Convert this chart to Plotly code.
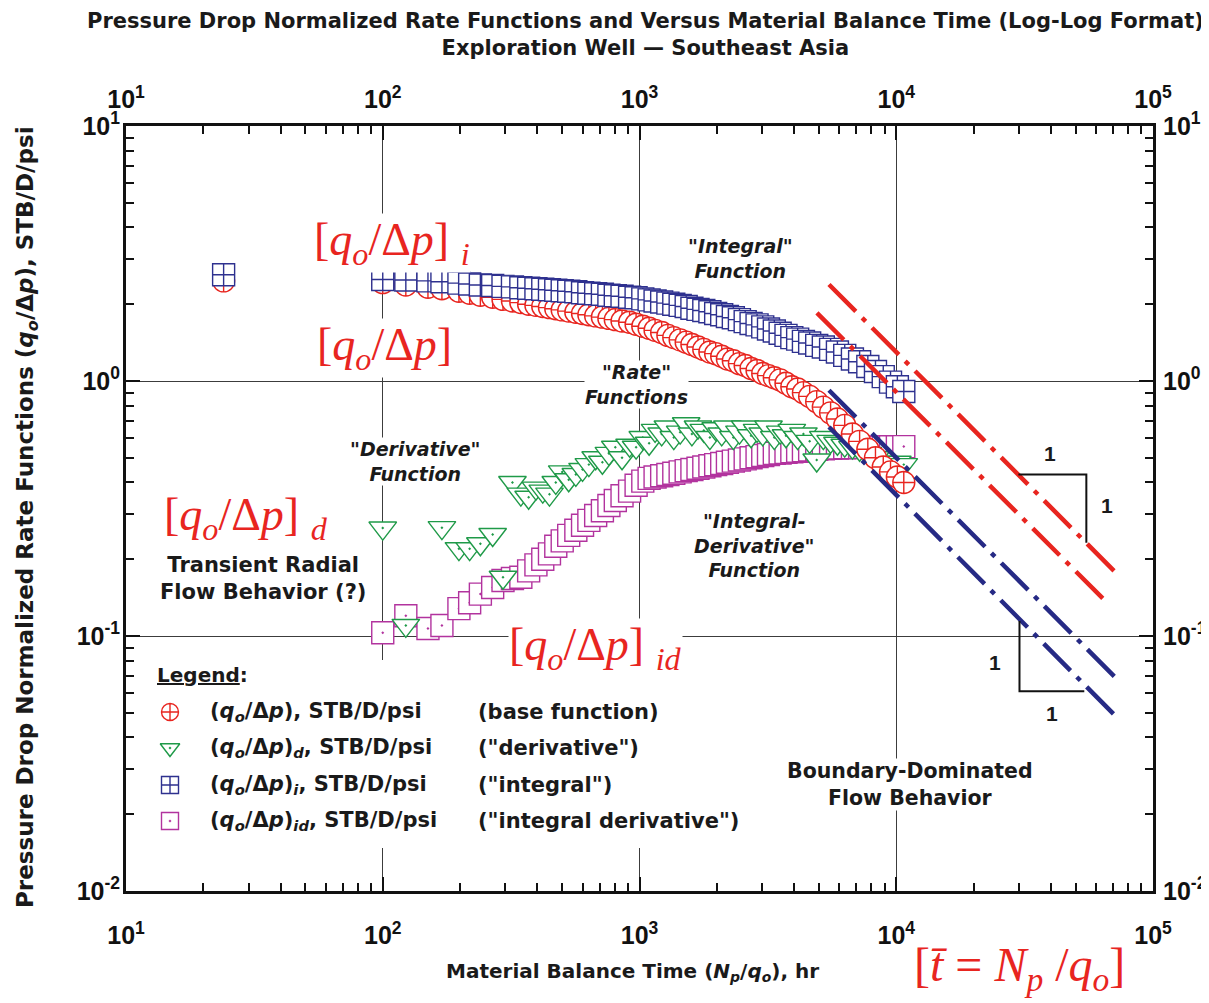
import plotly.graph_objects as go

# ---------------- data ----------------
t_mbt = [24, 100, 123, 150, 170, 198, 218, 240, 268, 294, 320, 345, 370, 395, 420, 446, 472, 500,
         530, 565, 600, 635, 675, 717, 760, 805, 855, 915, 970, 1030, 1090, 1150, 1220, 1290, 1360,
         1440, 1520, 1600, 1690, 1780, 1880, 1980, 2090, 2200, 2320, 2450, 2580, 2720, 2870, 3020,
         3180, 3350, 3530, 3720, 3920, 4130, 4350, 4600, 4900, 5200, 5550, 5900, 6300, 6750, 7200,
         7750, 8300, 8900, 9500, 10100, 10700]

q_base = [2.47, 2.43, 2.38, 2.33, 2.30, 2.25, 2.21, 2.17, 2.13, 2.09, 2.06, 2.03, 2.00, 1.98, 1.96,
          1.94, 1.92, 1.90, 1.88, 1.86, 1.84, 1.82, 1.80, 1.78, 1.76, 1.74, 1.72, 1.70, 1.67, 1.64,
          1.61, 1.58, 1.55, 1.51, 1.48, 1.45, 1.42, 1.39, 1.36, 1.33, 1.30, 1.28, 1.25, 1.22, 1.20,
          1.17, 1.15, 1.12, 1.10, 1.07, 1.05, 1.03, 1.01, 0.98, 0.95, 0.93, 0.90, 0.87, 0.83, 0.79,
          0.75, 0.71, 0.67, 0.62, 0.58, 0.54, 0.50, 0.46, 0.44, 0.42, 0.40]

q_deriv = [None, 0.265, 0.11, None, 0.266, 0.22, 0.22, 0.23, 0.25, 0.17, 0.40, 0.36, 0.35, 0.38, 0.37,
           0.36, 0.40, 0.44, 0.41, 0.43, 0.45, 0.47, 0.50, 0.48, 0.52, 0.55, 0.50, 0.56, 0.55, 0.60,
           0.57, 0.64, 0.62, 0.66, 0.60, 0.63, 0.68, 0.62, 0.66, 0.64, 0.60, 0.65, 0.62, 0.66, 0.60,
           0.63, 0.66, 0.61, 0.64, 0.62, 0.66, 0.60, 0.63, 0.61, 0.64, 0.60, 0.62, 0.58, 0.49, 0.60,
           0.58, 0.57, 0.56, 0.55, 0.54, 0.52, 0.50, 0.48, 0.47, 0.48, 0.47]

q_int = [2.61, 2.50, 2.49, 2.47, 2.45, 2.42, 2.40, 2.38, 2.37, 2.35, 2.34, 2.32, 2.31, 2.30, 2.29,
         2.28, 2.27, 2.26, 2.25, 2.24, 2.22, 2.21, 2.20, 2.19, 2.17, 2.16, 2.15, 2.13, 2.12, 2.10,
         2.08, 2.06, 2.04, 2.02, 2.00, 1.98, 1.96, 1.93, 1.91, 1.89, 1.87, 1.84, 1.82, 1.79, 1.77,
         1.74, 1.71, 1.68, 1.66, 1.63, 1.60, 1.57, 1.54, 1.51, 1.48, 1.46, 1.43, 1.41, 1.38, 1.36,
         1.33, 1.30, 1.26, 1.22, 1.19, 1.14, 1.09, 1.04, 0.99, 0.95, 0.91]

q_intderiv = [None, 0.103, 0.12, 0.107, 0.11, 0.128, 0.135, 0.146, 0.155, 0.165, 0.168, 0.17, 0.18,
              0.19, 0.20, 0.21, 0.225, 0.236, 0.248, 0.26, 0.272, 0.284, 0.297, 0.31, 0.325, 0.34,
              0.355, 0.37, 0.39, 0.405, 0.415, 0.42, 0.425, 0.43, 0.435, 0.44, 0.445, 0.45, 0.455,
              0.46, 0.465, 0.47, 0.475, 0.48, 0.485, 0.49, 0.495, 0.50, 0.505, 0.51, 0.515, 0.52,
              0.522, 0.525, 0.528, 0.53, 0.533, 0.536, 0.54, 0.542, 0.545, 0.546, 0.547, 0.548,
              0.549, 0.55, 0.55, 0.551, 0.552, 0.552, 0.553]

# unit-slope guide lines (boundary-dominated flow)
red_upper_x = [5470, 73800]
red_upper_y = [2.39, 0.172]
red_lower_x = [4910, 66800]
red_lower_y = [1.85, 0.134]
blue_upper_x = [5470, 73800]
blue_upper_y = [0.92, 0.0665]
blue_lower_x = [5470, 73800]
blue_lower_y = [0.66, 0.047]

# slope triangles
tri_upper_x = [29900, 55000, 55000]
tri_upper_y = [0.43, 0.43, 0.232]
tri_lower_x = [30200, 30200, 54000]
tri_lower_y = [0.1146, 0.0607, 0.0607]

x_tick_vals = [10, 100, 1000, 10000, 100000]
x_tick_text = ["10<sup>1</sup>", "10<sup>2</sup>", "10<sup>3</sup>", "10<sup>4</sup>", "10<sup>5</sup>"]
y_tick_vals = [0.01, 0.1, 1, 10]
y_tick_text = ["10<sup>-2</sup>", "10<sup>-1</sup>", "10<sup>0</sup>", "10<sup>1</sup>"]

# ---------------- styling ----------------
RED = "#e8251f"
BLUE = "#2e318f"
GREEN = "#1f9a48"
MAGENTA = "#b2339e"
LBLUE = "#262a85"
FONT = "Liberation Sans, Arial, sans-serif"
WIDE = "DejaVu Sans, Verdana, sans-serif"
SERIF = "Liberation Serif, Times New Roman, serif"
TXT = "#1a1a1a"

# page is shown with the browser's default 8px body margin
OFF = 8
PAGE_W, PAGE_H = 1209, 1003
W, H = PAGE_W - OFF, PAGE_H - OFF
# plot box in page pixels
L, R, T, B = 126, 1153, 126, 891


def pfx(xp):
    return (xp - L) / (R - L)


def pfy(yp):
    return (B - yp) / (B - T)


minor_x = [m * 10 ** e for e in range(1, 5) for m in range(2, 10)]
minor_y = [m * 10.0 ** e for e in range(-2, 1) for m in range(2, 10)]

fig = go.Figure()

mk = dict(size=22, color="white")
fig.add_trace(go.Scatter(x=t_mbt, y=q_intderiv, mode="markers", showlegend=False,
                         marker=dict(symbol="square-dot", line=dict(color=MAGENTA, width=1.4), **mk)))
fig.add_trace(go.Scatter(x=t_mbt, y=q_deriv, mode="markers", showlegend=False,
                         marker=dict(symbol="triangle-down-dot", size=24, color="white",
                                     line=dict(color=GREEN, width=1.4))))
fig.add_trace(go.Scatter(x=t_mbt, y=q_base, mode="markers", showlegend=False,
                         marker=dict(symbol="circle-cross", line=dict(color=RED, width=1.4), **mk)))
fig.add_trace(go.Scatter(x=t_mbt, y=q_int, mode="markers", showlegend=False,
                         marker=dict(symbol="square-cross", line=dict(color=BLUE, width=1.4), **mk)))

dashpat = "38px,9px,5px,9px"
for xs, ys, c in [(red_upper_x, red_upper_y, RED), (red_lower_x, red_lower_y, RED),
                  (blue_upper_x, blue_upper_y, LBLUE), (blue_lower_x, blue_lower_y, LBLUE)]:
    fig.add_trace(go.Scatter(x=xs, y=ys, mode="lines", showlegend=False,
                             line=dict(color=c, width=4.5, dash=dashpat)))

for xs, ys in [(tri_upper_x, tri_upper_y), (tri_lower_x, tri_lower_y)]:
    fig.add_trace(go.Scatter(x=xs, y=ys, mode="lines", showlegend=False,
                             line=dict(color="#111111", width=2)))

# invisible trace to activate top/right axes
fig.add_trace(go.Scatter(x=[10, 100000], y=[0.01, 10], xaxis="x2", yaxis="y2", mode="markers",
                         marker=dict(opacity=0), showlegend=False, hoverinfo="skip"))

# legend box (white panel hiding grid lines) and legend symbols on a hidden unit overlay
bx0, bx1, by0, by1 = pfx(148), pfx(745), pfy(848), pfy(660)
fig.add_trace(go.Scatter(x=[bx0, bx1, bx1, bx0, bx0], y=[by0, by0, by1, by1, by0], xaxis="x3", yaxis="y3",
                         mode="lines", fill="toself", fillcolor="white", line=dict(width=0),
                         showlegend=False, hoverinfo="skip"))
leg_y_px = [712, 748, 785, 821]
leg_syms = ["circle-cross", "triangle-down-dot", "square-cross", "square-dot"]
leg_cols = [RED, GREEN, BLUE, MAGENTA]
fig.add_trace(go.Scatter(x=[pfx(170)] * 4, y=[pfy(v) for v in leg_y_px], xaxis="x3", yaxis="y3",
                         mode="markers", showlegend=False, hoverinfo="skip",
                         marker=dict(symbol=leg_syms, size=17, color="white",
                                     line=dict(color=leg_cols, width=1.4))))

tickfont = dict(family=FONT, size=25, color="#111111")
common = dict(type="log", ticks="inside", ticklen=14, tickwidth=2, tickcolor="#111111",
              showline=True, linewidth=3, linecolor="#111111", zeroline=False, tickfont=tickfont,
              tickmode="array", automargin=False)
minor_common = dict(ticks="inside", ticklen=8, tickwidth=2, tickcolor="#111111",
                    tickmode="array", showgrid=False)

fig.update_layout(
    width=W, height=H,
    margin=dict(l=L - OFF, r=W - (R - OFF), t=T - OFF, b=H - (B - OFF), autoexpand=False),
    paper_bgcolor="white", plot_bgcolor="white",
    showlegend=False,
    xaxis=dict(range=[1, 5], tickvals=x_tick_vals, ticktext=["<b>%s</b>" % s for s in x_tick_text],
               showgrid=True, gridcolor="#3c3c3c", gridwidth=1, ticklabelstandoff=20,
               minor=dict(tickvals=minor_x, **minor_common), **common),
    yaxis=dict(range=[-2, 1], tickvals=y_tick_vals, ticktext=["<b>%s</b>" % s for s in y_tick_text],
               showgrid=True, gridcolor="#3c3c3c", gridwidth=1, ticklabelstandoff=-2,
               minor=dict(tickvals=minor_y, **minor_common), **common),
    xaxis2=dict(overlaying="x", side="top", range=[1, 5], tickvals=x_tick_vals,
                ticktext=["<b>%s</b>" % s for s in x_tick_text], showgrid=False, ticklabelstandoff=5,
                minor=dict(tickvals=minor_x, **minor_common), **common),
    yaxis2=dict(overlaying="y", side="right", range=[-2, 1], tickvals=y_tick_vals,
                ticktext=["<b>%s</b>" % s for s in y_tick_text], showgrid=False, ticklabelstandoff=2,
                minor=dict(tickvals=minor_y, **minor_common), **common),
    xaxis3=dict(overlaying="x", range=[0, 1], visible=False, fixedrange=True, automargin=False),
    yaxis3=dict(overlaying="y", range=[0, 1], visible=False, fixedrange=True, automargin=False),
)

ann = []


def add_text(text, xp, yp, size, family=WIDE, color=TXT, xanchor="center", bg="white", angle=0):
    ann.append(dict(text=text, x=pfx(xp), y=pfy(yp), xref="paper", yref="paper", showarrow=False,
                    xanchor=xanchor, yanchor="middle", align="center", textangle=angle,
                    font=dict(family=family, size=size, color=color),
                    bgcolor=bg, borderpad=0))


# chart title and axis titles
add_text("<b>Pressure Drop Normalized Rate Functions and Versus Material Balance Time (Log-Log Format)"
         "<br>Exploration Well — Southeast Asia</b>", 645, 35, 21, bg=None)
add_text("<b>Material Balance Time (<i>N<sub>p</sub></i>/<i>q<sub>o</sub></i>), hr</b>", 632, 972, 20, bg=None)
add_text("<b>Pressure Drop Normalized Rate Functions (<i>q<sub>o</sub></i>/Δ<i>p</i>), STB/D/psi</b>",
         27, 517, 23, bg=None, angle=-90)

# red formula labels
add_text("[<i>q<sub>o</sub></i>/Δ<i>p</i>] <sub><i>i</i></sub>", 313, 243, 46, SERIF, RED, "left")
add_text("[<i>q<sub>o</sub></i>/Δ<i>p</i>]", 316, 348, 46, SERIF, RED, "left")
add_text("[<i>q<sub>o</sub></i>/Δ<i>p</i>] <sub><i>d</i></sub>", 163, 518, 46, SERIF, RED, "left")
add_text("[<i>q<sub>o</sub></i>/Δ<i>p</i>] <sub><i>id</i></sub>", 508, 648, 46, SERIF, RED, "left")
add_text("[<i>t̄</i> = <i>N<sub>p</sub></i> /<i>q<sub>o</sub></i>]", 913, 968, 48, SERIF, RED, "left", bg=None)

# descriptive labels
add_text("<b><i>\"Integral\"<br>Function</i></b>", 740, 258, 19)
add_text("<b><i>\"Rate\"<br>Functions</i></b>", 636, 384, 19)
add_text("<b><i>\"Derivative\"<br>Function</i></b>", 415, 461, 19)
add_text("<b>Transient Radial<br>Flow Behavior (?)</b>", 263, 578, 21)
add_text("<b><i>\"Integral-<br>Derivative\"<br>Function</i></b>", 754, 545, 19)
add_text("<b>Boundary-Dominated<br>Flow Behavior</b>", 910, 784, 20.5)

# slope labels
for xp, yp in [(1050, 453), (1107, 505), (995, 662), (1052, 713)]:
    add_text("<b>1</b>", xp, yp, 21, family=FONT, bg=None)

# legend texts
add_text("<b><u>Legend</u>:</b>", 156, 675, 20, xanchor="left", bg=None)
leg_lab = ["(<i>q<sub>o</sub></i>/Δ<i>p</i>), STB/D/psi",
           "(<i>q<sub>o</sub></i>/Δ<i>p</i>)<sub><i>d</i></sub>, STB/D/psi",
           "(<i>q<sub>o</sub></i>/Δ<i>p</i>)<sub><i>i</i></sub>, STB/D/psi",
           "(<i>q<sub>o</sub></i>/Δ<i>p</i>)<sub><i>id</i></sub>, STB/D/psi"]
leg_desc = ["(base function)", "(\"derivative\")", "(\"integral\")", "(\"integral derivative\")"]
for yp, lab, desc in zip(leg_y_px, leg_lab, leg_desc):
    add_text("<b>%s</b>" % lab, 209, yp, 21, xanchor="left", bg=None)
    add_text("<b>%s</b>" % desc, 477, yp, 21, xanchor="left", bg=None)

fig.update_layout(annotations=ann)

fig.write_html("out.html")
